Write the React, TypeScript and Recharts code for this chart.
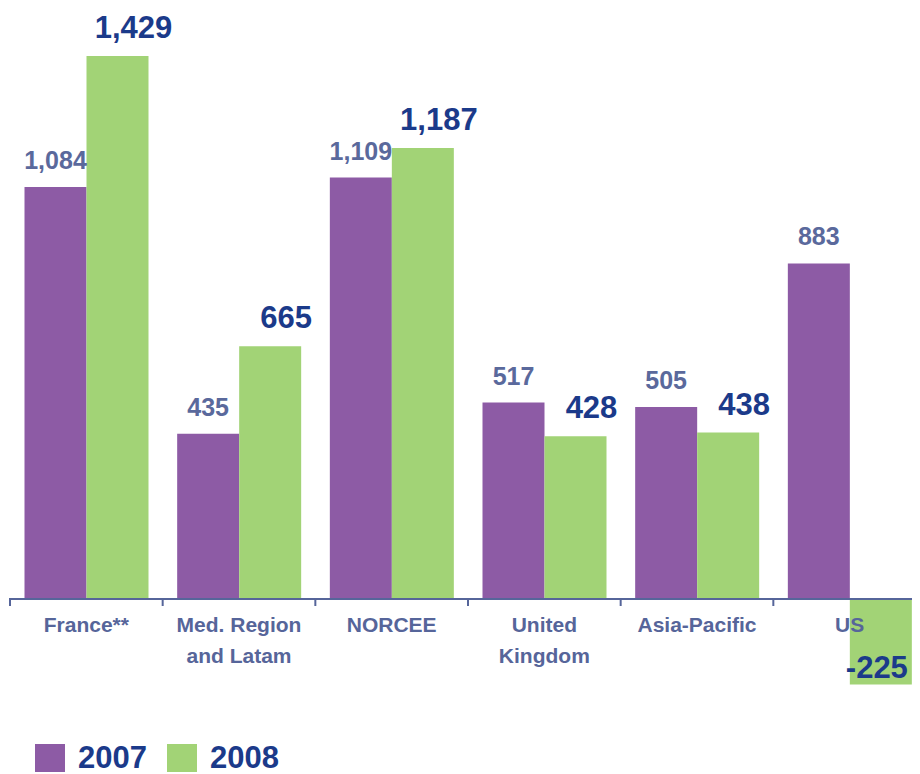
import { BarChart, Bar, XAxis, YAxis, LabelList } from "recharts";

const categories = ["France**", "Med. Region\nand Latam", "NORCEE", "United\nKingdom", "Asia-Pacific", "US"];
const values2007 = [1084, 435, 1109, 517, 505, 883];
const values2008 = [1429, 665, 1187, 428, 438, -225];
const seriesNames = ["2007", "2008"];

const PURPLE = "#8D5BA5";
const GREEN = "#A2D376";
const AXIS = "#56659A";
const NAVY = "#1B3A8A";
const FONT = "'Liberation Sans', Arial, sans-serif";

// zero line sits this far above the bottom of the plot (domain -300 .. 1500, 684px tall)
const ZERO_SHIFT = 114;

const data = categories.map((c, i) => ({
  name: c,
  y2007: values2007[i],
  y2008: values2008[i],
}));

const fmt = (v: number) => v.toLocaleString("en-US");

const CategoryTick = (props: any) => {
  const { x, payload } = props;
  const y = props.y - ZERO_SHIFT;
  const lines = String(payload.value).split("\n");
  const half = payload.offset || 0;
  return (
    <g>
      <line x1={x - half - 1} x2={x + half + 1} y1={y} y2={y} stroke={AXIS} strokeWidth={2} />
      <line x1={x - half} x2={x - half} y1={y} y2={y + 7} stroke={AXIS} strokeWidth={2} />
      {lines.map((l: string, i: number) => (
        <text
          key={i}
          x={x}
          y={y + 33 + i * 31}
          textAnchor="middle"
          fill={AXIS}
          fontFamily={FONT}
          fontWeight="bold"
          fontSize={21}
        >
          {l}
        </text>
      ))}
    </g>
  );
};

const label2007 = (props: any) => {
  const { x, y, width, height, value } = props;
  const top = Math.min(y, y + height);
  return (
    <text
      x={x + width / 2}
      y={top - 18}
      textAnchor="middle"
      fill="#5A699C"
      fontFamily={FONT}
      fontWeight="bold"
      fontSize={25}
    >
      {fmt(value)}
    </text>
  );
};

const label2008 = (props: any) => {
  const { x, y, width, height, value } = props;
  const top = Math.min(y, y + height);
  const bottom = Math.max(y, y + height);
  const neg = value < 0;
  return (
    <text
      x={x + width / 2 + (neg ? -4 : 16)}
      y={neg ? bottom - 7 : top - 18}
      textAnchor="middle"
      fill={NAVY}
      fontFamily={FONT}
      fontWeight="bold"
      fontSize={31}
    >
      {fmt(value)}
    </text>
  );
};

export default function App() {
  const colors = [PURPLE, GREEN];
  return (
    <div style={{ width: 912, height: 766, overflow: "hidden", position: "relative" }}>
      <BarChart
        width={930}
        height={766}
        data={data}
        margin={{ top: 21, right: 12, left: 2, bottom: 31 }}
        barCategoryGap="9.5%"
        barGap={0}
      >
        <YAxis hide domain={[-300, 1500]} />
        <XAxis
          dataKey="name"
          height={30}
          axisLine={false}
          tickLine={false}
          tickSize={0}
          tickMargin={0}
          interval={0}
          tick={<CategoryTick />}
        />
        <Bar dataKey="y2007" fill={PURPLE} isAnimationActive={false}>
          <LabelList dataKey="y2007" content={label2007} />
        </Bar>
        <Bar dataKey="y2008" fill={GREEN} isAnimationActive={false}>
          <LabelList dataKey="y2008" content={label2008} />
        </Bar>
      </BarChart>
      <div
        style={{
          position: "absolute",
          left: 27,
          top: 736,
          display: "flex",
          alignItems: "center",
          fontFamily: FONT,
          fontWeight: "bold",
          fontSize: 31,
          color: NAVY,
          lineHeight: "24px",
        }}
      >
        {seriesNames.map((s, i) => (
          <div key={s} style={{ display: "flex", alignItems: "center", marginRight: 20 }}>
            <span style={{ width: 30, height: 28, background: colors[i], display: "inline-block", marginRight: 13 }} />
            <span>{s}</span>
          </div>
        ))}
      </div>
    </div>
  );
}
